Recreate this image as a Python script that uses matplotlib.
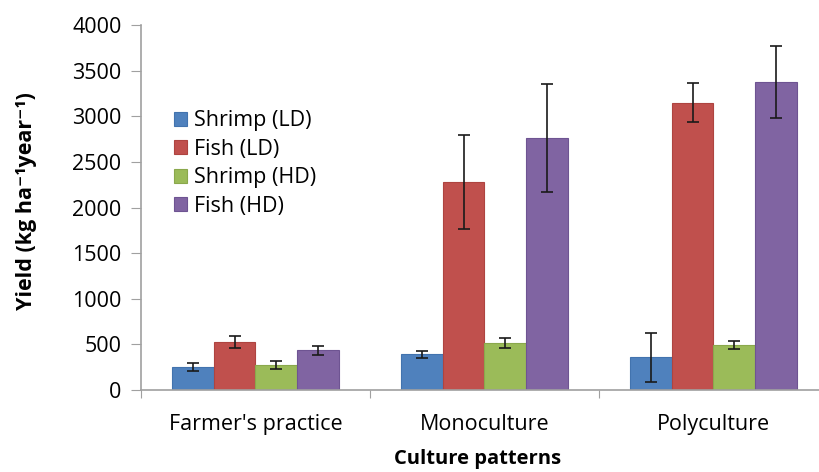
import numpy as np
import matplotlib.pyplot as plt

categories = ["Farmer's practice", "Monoculture", "Polyculture"]
series = ["Shrimp (LD)", "Fish (LD)", "Shrimp (HD)", "Fish (HD)"]
shrimp_ld = [250, 390, 360]
shrimp_ld_err = [45, 42, 270]
fish_ld = [525, 2280, 3150]
fish_ld_err = [65, 520, 215]
shrimp_hd = [270, 510, 490]
shrimp_hd_err = [45, 55, 45]
fish_hd = [435, 2760, 3375]
fish_hd_err = [50, 590, 390]

values = [shrimp_ld, fish_ld, shrimp_hd, fish_hd]
errors = [shrimp_ld_err, fish_ld_err, shrimp_hd_err, fish_hd_err]
colors = ["#4F81BD", "#C0504D", "#9BBB59", "#8064A2"]
edges = ["#4273AE", "#AE4440", "#8AA84C", "#6E5492"]

plt.rcParams['font.family'] = ['Open Sans', 'DejaVu Sans']

fig = plt.figure(figsize=(8.2, 4.72), dpi=100)
ax = fig.add_axes([141 / 820, 1 - 390 / 472, 687 / 820, 365 / 472])

x = np.arange(len(categories))
w = 0.182
for i, (vals, errs) in enumerate(zip(values, errors)):
    ax.bar(x + (i - 1.5) * w, vals, w, color=colors[i], edgecolor=edges[i],
           linewidth=0.8, label=series[i],
           yerr=errs, error_kw=dict(ecolor="#1a1a1a", elinewidth=1.2, capsize=4, capthick=1.2))

ax.set_xlim(-0.5, 2.5)
ax.set_ylim(0, 4000)
ax.set_yticks(np.arange(0, 4001, 500))
ax.set_xticks([-0.5, 0.5, 1.5, 2.5], minor=False)
ax.set_xticklabels([])
ax.set_xticks(x, minor=True)
ax.set_xticklabels(categories, minor=True, fontsize=15.5)
ax.tick_params(axis="x", which="minor", length=0, pad=17)
ax.tick_params(axis="x", which="major", length=6, color="#a0a0a0", direction="out")
ax.tick_params(axis="y", length=7, color="#a0a0a0", labelsize=15.5, pad=7)

for s in ["top", "right"]:
    ax.spines[s].set_visible(False)
for s in ["left", "bottom"]:
    ax.spines[s].set_color("#a0a0a0")
    ax.spines[s].set_linewidth(1.2)

ax.set_ylabel("Yield (kg ha⁻¹year⁻¹)", fontsize=15.5, fontweight="bold")
ax.yaxis.set_label_coords(-0.152, 0.518)
ax.set_xlabel("Culture patterns", fontsize=14.5, fontweight="bold")
ax.xaxis.set_label_coords(0.49, -0.163)

ax.legend(loc="upper left", bbox_to_anchor=(0.035, 0.79), frameon=False,
          fontsize=15.5, handlelength=0.6, handleheight=0.6, handletextpad=0.35,
          labelspacing=0.35, borderaxespad=0)

fig.savefig("out.png", dpi=100)
